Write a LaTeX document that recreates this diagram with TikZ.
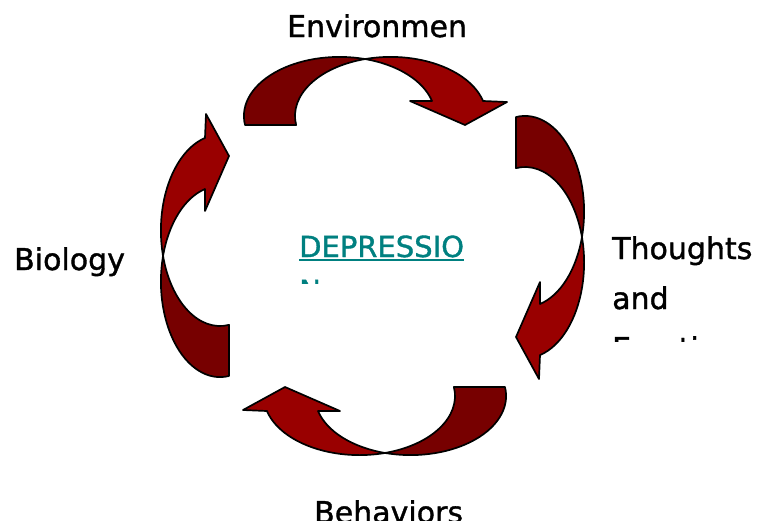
\documentclass[tikz,border=0pt]{standalone}
\usepackage{fontspec}
\setmainfont{DejaVu Sans}[BoldFont=DejaVu Sans,BoldFeatures={FakeBold=1.2}]
\usetikzlibrary{positioning,shapes,arrows,fit,calc}

\definecolor{backred}{RGB}{119,0,0}
\definecolor{frontred}{RGB}{153,0,0}
\definecolor{linkteal}{RGB}{0,128,128}

\newcommand{\linkline}[1]{\setbox0\hbox{#1}\rlap{\rule[-3.5pt]{\wd0}{1.8pt}}\box0}

\tikzset{
    backband/.style={fill=backred,draw=black,line width=1.7pt,line join=round},
    frontband/.style={fill=frontred,draw=black,line width=1.7pt,line join=round},
    oval/.style={x radius=95.6,y radius=59.1},
    cyclelabel/.style={inner sep=0pt,anchor=base west,align=left,font=\fontsize{30}{50}\selectfont\bfseries}
}

\begin{document}
\begin{tikzpicture}[x=1pt,y=-1pt]
    \path[use as bounding box,fill=white] (0,0) rectangle (760,520);
    \clip (0,0) rectangle (760,520);
    % the same curved arrow, turned to each side of the cycle
    \foreach \turn/\cx/\cy in {0/0/0,-90/384.5/256.5,180/375/256,90/362.5/258.5}{
        \begin{scope}[rotate around={\turn:(\cx,\cy)}]
            \coordinate (centre) at (339.5,116);
            \coordinate (peak) at ($(centre)+(285.5:95.6 and 59.1)$);
            \coordinate (tail) at ($(centre)+(171.25:95.6 and 59.1)$);
            \filldraw[backband] (tail) arc[oval,start angle=171.25,end angle=285.5]
                arc[oval,start angle=254.5,end angle=171.25] -- cycle;
            \filldraw[frontband] (peak) arc[oval,start angle=254.5,end angle=345.3]
                -- (507,102) -- (465,125) -- (410,101) -- (432,101)
                arc[oval,start angle=345.3,end angle=285.5] -- cycle;
        \end{scope}
    }
    \node[cyclelabel] (environment) at (287,37) {Environmen};
    \node[cyclelabel] (biology) at (14,270) {Biology};
    \node[cyclelabel] (behaviors) at (314,523) {Behaviors};
    \begin{scope}
        \clip (600,220) rectangle (760,341);
        \node[cyclelabel] (thoughts) at (612,359) {Thoughts\\and\\Emotions};
    \end{scope}
    \begin{scope}
        \clip (290,220) rectangle (480,283);
        \node[cyclelabel,text=linkteal,font=\fontsize{29}{44}\selectfont\bfseries] (depression) at (299,301) {\linkline{DEPRESSIO}\\\linkline{N}};
    \end{scope}
\end{tikzpicture}
\end{document}
